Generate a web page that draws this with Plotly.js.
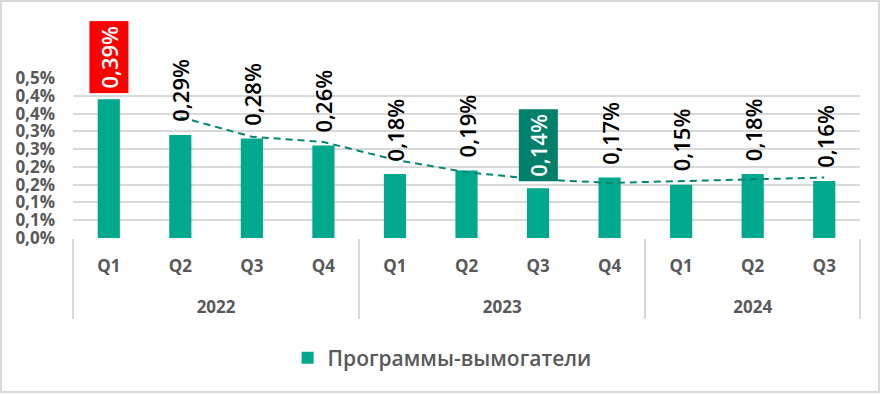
<!DOCTYPE html>
<html>
<head>
<meta charset="utf-8">
<script src="https://cdn.plot.ly/plotly-3.0.1.min.js"></script>
<style>
  html, body { margin: 0; padding: 0; background: #fff; }
  #wrap { position: relative; width: 882px; height: 395px; }
  #chart { width: 882px; height: 395px; }
  #frame { position: absolute; left: 0; top: 0; width: 880px; height: 393px; box-sizing: border-box;
           border: 2px solid #d9d9d9; pointer-events: none; }
</style>
</head>
<body>
<div id="wrap"><div id="chart"></div><div id="frame"></div></div>
<script>
// ---- data ----
const years    = ['2022','2022','2022','2022','2023','2023','2023','2023','2024','2024','2024'];
const quarters = ['Q1','Q2','Q3','Q4','Q1','Q2','Q3','Q4','Q1','Q2','Q3'];
const values   = [0.39, 0.29, 0.28, 0.26, 0.18, 0.19, 0.14, 0.17, 0.15, 0.18, 0.16];
const trend    = [null, 0.34, 0.285, 0.27, 0.22, 0.185, 0.165, 0.155, 0.16, 0.165, 0.17];
const seriesName = 'Программы-вымогатели';
const yTickVals = [0, 0.05, 0.10, 0.15, 0.20, 0.25, 0.30, 0.35, 0.40, 0.45];
const yTickText = ['0,0%','0,1%','0,1%','0,2%','0,2%','0,3%','0,3%','0,4%','0,4%','0,5%'];
const highlightMax = 0;   // index of max bar (red label)
const highlightMin = 6;   // index of min bar (dark green label)

// ---- style ----
const FONT = 'Open Sans, Noto Sans, sans-serif';
const GREY = '#595959';
const GRID = '#d9d9d9';
const BAR = '#00A88E';

const fmt = v => v.toFixed(2).replace('.', ',') + '%';
const nCat = values.length;

const bars = {
  type: 'bar',
  x: [years, quarters],
  y: values,
  name: seriesName,
  marker: { color: BAR },
  hoverinfo: 'skip'
};
const trendLine = {
  type: 'scatter',
  mode: 'lines',
  x: [years, quarters],
  y: trend,
  showlegend: false,
  line: { color: '#00876F', width: 2, dash: '7px,5px' },
  connectgaps: false,
  hoverinfo: 'skip'
};

const annotations = values.map((v, i) => {
  const a = {
    x: i, y: v, xref: 'x', yref: 'y',
    text: fmt(v), showarrow: false, textangle: -90,
    yanchor: 'bottom', xanchor: 'center',
    font: { family: FONT, size: 22, color: '#000', weight: 600 },
    yshift: 11
  };
  if (i === highlightMax || i === highlightMin) {
    a.bgcolor = i === highlightMax ? '#FF0000' : '#00806A';
    a.font = { family: FONT, size: 22, color: '#fff', weight: 600 };
    a.borderpad = 4;
    a.yshift = 6;
  }
  return a;
});

const layout = {
  width: 882, height: 395,
  margin: { l: 73, r: 22, t: 78, b: 157 },
  paper_bgcolor: 'rgba(0,0,0,0)',
  plot_bgcolor: '#fff',
  bargap: 0.69,
  showlegend: true,
  legend: {
    orientation: 'h', x: 0.469, xanchor: 'center', y: -0.75, yanchor: 'middle',
    font: { family: FONT, size: 21, color: GREY, weight: 600 }
  },
  xaxis: {
    type: 'multicategory',
    range: [-0.5, nCat - 0.5],
    showgrid: false,
    showline: false,
    ticks: '',
    ticklabelstandoff: 16,
    ticksuffix: '<br><span style="font-size:40px"> </span>',
    showdividers: true, dividercolor: GRID, dividerwidth: 2,
    tickfont: { family: FONT, size: 17, color: GREY, weight: 'bold' },
    zeroline: false
  },
  // helper axis: vertical grid lines at category boundaries
  xaxis2: {
    overlaying: 'x', anchor: 'y', side: 'bottom',
    range: [-0.5, nCat - 0.5],
    tick0: -0.5, dtick: 1,
    showgrid: true, gridcolor: GRID, gridwidth: 2,
    showticklabels: false, ticks: '', zeroline: false, showline: false
  },
  yaxis: {
    range: [0, 0.45],
    tickvals: yTickVals, ticktext: yTickText,
    showgrid: true, gridcolor: GRID, gridwidth: 2,
    zeroline: false, showline: false, ticks: '',
    ticklabelstandoff: 17,
    tickfont: { family: FONT, size: 17, color: GREY, weight: 'bold' }
  },
  annotations: annotations
};

Plotly.newPlot('chart', [bars, trendLine], layout, { staticPlot: true, displayModeBar: false });
</script>
</body>
</html>
